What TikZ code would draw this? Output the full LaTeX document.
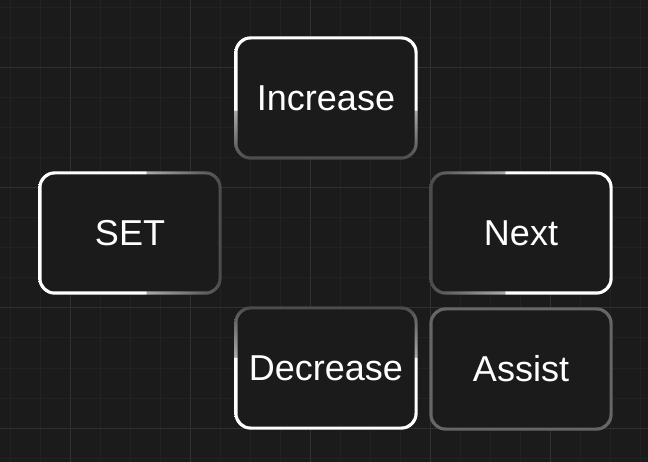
\documentclass[tikz,border=0pt]{standalone}
\usepackage{fontspec}
\setmainfont{Liberation Sans}
\usetikzlibrary{backgrounds}
\definecolor{bgc}{HTML}{1B1B1B}
\definecolor{minorc}{HTML}{222222}
\definecolor{majorc}{HTML}{303030}
\definecolor{gA}{HTML}{4A4A4A}
\definecolor{gB}{HTML}{ABABAB}
\definecolor{assistc}{HTML}{666666}
\pgfdeclareverticalshading{incsh}{100bp}{color(0bp)=(gA); color(25bp)=(gA); color(45bp)=(gB); color(45.05bp)=(white); color(100bp)=(white)}
\pgfdeclareverticalshading{decsh}{100bp}{color(0bp)=(white); color(54.45bp)=(white); color(54.5bp)=(gB); color(75bp)=(gA); color(100bp)=(gA)}
\pgfdeclarehorizontalshading{setsh}{100bp}{color(0bp)=(white); color(54.35bp)=(white); color(54.4bp)=(gB); color(75bp)=(gA); color(100bp)=(gA)}
\pgfdeclarehorizontalshading{nextsh}{100bp}{color(0bp)=(gA); color(25bp)=(gA); color(45.6bp)=(gB); color(45.65bp)=(white); color(100bp)=(white)}
\tikzset{
  box/.style={rectangle, rounded corners=13.5pt, fill=bgc, minimum width=177pt, minimum height=117pt, inner sep=0pt, text=white, font=\fontsize{36pt}{40pt}\selectfont},
  ring/.style={rounded corners=16.5pt},
  minorline/.style={draw=minorc, line width=1pt},
  majorline/.style={draw=majorc, line width=1pt}
}
\newcommand\ringof[2]{\shade[ring, shading=#2] ([shift={(-3pt,3pt)}]#1.north west) rectangle ([shift={(3pt,-3pt)}]#1.south east);}
\begin{document}
\begin{tikzpicture}[x=1pt,y=-1pt]
\useasboundingbox (0,0) rectangle (648,462);
\node[box] (inc) at (326,98) {Increase};
\node[box] (set) at (130,233) {SET};
\node[box] (next) at (521,233) {Next};
\node[box] (dec) at (326,368) {Decrease};
\node[box] (assist) at (521,369) {Assist};
\begin{pgfonlayer}{background}
\fill[bgc] (0,0) rectangle (648,462);
\foreach \x in {10,40,...,640} \draw[minorline] (\x,0) -- (\x,462);
\foreach \y in {8,38,...,460} \draw[minorline] (0,\y) -- (648,\y);
\foreach \x in {70,190,310,430,550} \draw[majorline] (\x,0) -- (\x,462);
\foreach \y in {68,188,308,428} \draw[majorline] (0,\y) -- (648,\y);
\ringof{inc}{incsh}
\ringof{set}{setsh}
\ringof{next}{nextsh}
\ringof{dec}{decsh}
\fill[ring, assistc] ([shift={(-3pt,3pt)}]assist.north west) rectangle ([shift={(3pt,-3pt)}]assist.south east);
\end{pgfonlayer}
\end{tikzpicture}
\end{document}
